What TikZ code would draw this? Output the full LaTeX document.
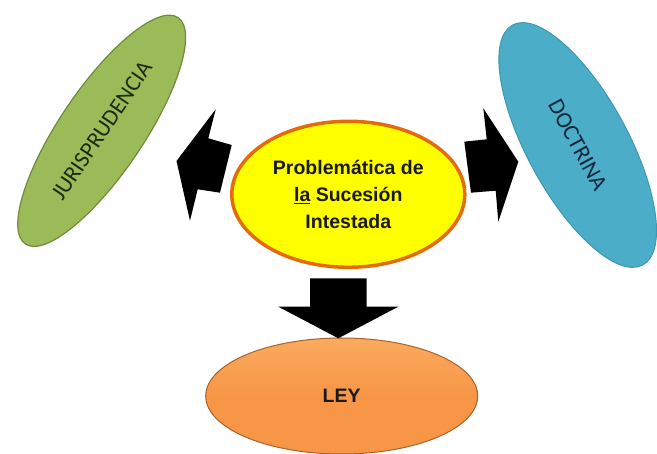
\documentclass[tikz,border=0pt]{standalone}
\usepackage{fontspec}
\setmainfont{Liberation Sans}
\newfontfamily\calib{Carlito}
\usetikzlibrary{shapes.geometric}
\definecolor{greenfill}{HTML}{9BBB59}
\definecolor{greenline}{HTML}{6F8A3A}
\definecolor{bluefill}{HTML}{4BADC8}
\definecolor{blueline}{HTML}{3A98B2}
\definecolor{orangefill}{HTML}{F79646}
\definecolor{orangetop}{HTML}{FBAA5E}
\definecolor{orangeline}{HTML}{A8622C}
\definecolor{yellowfill}{HTML}{FFFF00}
\definecolor{yellowline}{HTML}{E36C09}
\definecolor{darktext}{HTML}{1A1A1A}
\definecolor{jurtext}{HTML}{1E2A10}
\definecolor{doctext}{HTML}{10283A}
\begin{document}
\begin{tikzpicture}[x=1pt,y=-1pt,
  oval/.style={ellipse, inner sep=0pt},
  sidetext/.style={font=\calib\fontsize{23}{23}\selectfont},
  blockarrow/.style={fill=black, draw=none}]
\useasboundingbox (0,0) rectangle (657,454);

\node[oval, draw=greenline, fill=greenfill, line width=1.2pt,
  minimum width=273pt, minimum height=84pt, rotate=56,
  sidetext, text=jurtext] (jur) at (101.7,130.8) {JURISPRUDENCIA};

\node[oval, draw=blueline, fill=bluefill, line width=1pt,
  minimum width=273pt, minimum height=101pt, rotate=-61.5,
  sidetext, text=doctext] (doc) at (577.7,145) {DOCTRINA};

\node[oval, draw=orangeline, top color=orangetop, bottom color=orangefill,
  middle color=orangefill, line width=1pt,
  minimum width=272pt, minimum height=116pt,
  font=\bfseries\fontsize{19.5}{19.5}\selectfont, text=darktext] (ley) at (341.7,396) {LEY};

\node[oval, draw=yellowline, fill=yellowfill, line width=3.5pt,
  minimum width=233pt, minimum height=146pt, align=center,
  font=\bfseries\fontsize{19.5}{27}\selectfont, text=darktext] (prob) at (348.3,194.3)
  {Problemática de\\\underline{la} Sucesión\\Intestada};

\fill[blockarrow] (215.7,109.3) -- (176.5,161) -- (190,220.7) -- (197.7,189.3)
  -- (220,192.7) -- (231.7,145) -- (208.3,138.3) -- cycle;
\fill[blockarrow] (464.3,141.7) -- (486.7,139.3) -- (483.3,108.3) -- (518.3,161.7)
  -- (498.3,221.7) -- (495.7,190.7) -- (471,192.7) -- cycle;
\fill[blockarrow] (310,278.3) -- (366.7,278.3) -- (366.7,306.7) -- (398.3,306.7)
  -- (338.3,338.3) -- (278.3,306.7) -- (310,306.7) -- cycle;
\end{tikzpicture}
\end{document}
